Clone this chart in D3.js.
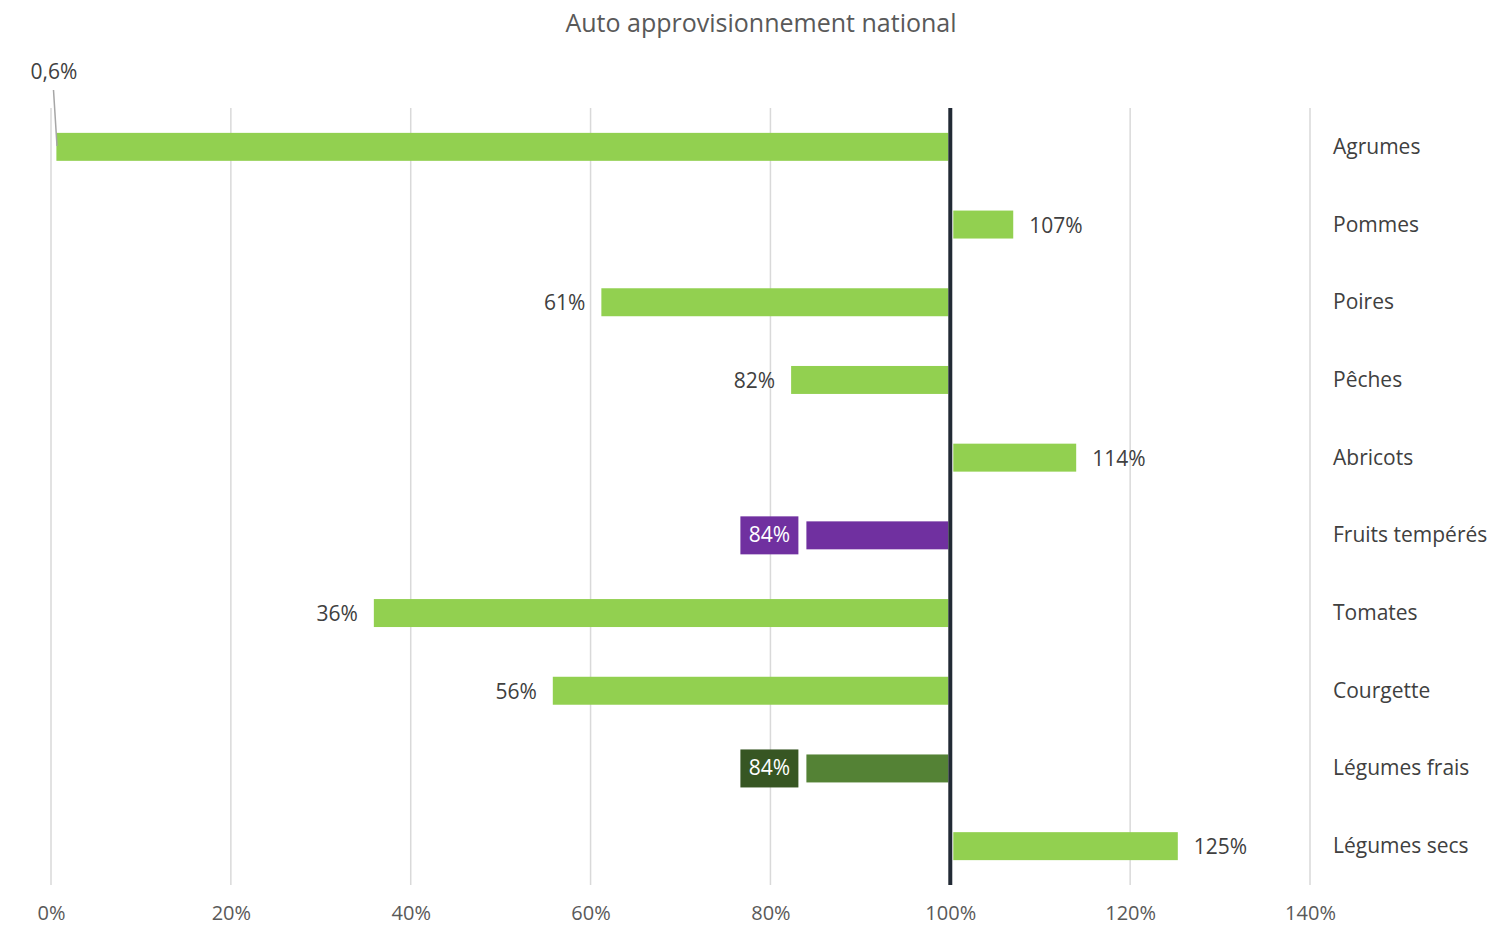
<!DOCTYPE html>
<html><head><meta charset="utf-8">
<script src="https://cdn.jsdelivr.net/npm/d3@7"></script>
<style>
html,body{margin:0;padding:0;background:#fff;}
svg{display:block;font-family:"Open Sans","Noto Sans",sans-serif;}
</style></head>
<body>
<svg id="chart" width="1494" height="927"></svg>
<script>
const categories = ["Agrumes","Pommes","Poires","Pêches","Abricots","Fruits tempérés","Tomates","Courgette","Légumes frais","Légumes secs"];
const values = [0.006,1.07,0.612,0.823,1.14,0.84,0.359,0.558,0.84,1.253];
const valueLabels = ["0,6%","107%","61%","82%","114%","84%","36%","56%","84%","125%"];
const barColors = ["#92D050","#92D050","#92D050","#92D050","#92D050","#7030A0","#92D050","#92D050","#548235","#92D050"];
const labelBoxColors = [null,null,null,null,null,"#7030A0",null,null,"#375623",null];
const xTicks = [0,0.2,0.4,0.6,0.8,1.0,1.2,1.4];
const title = "Auto approvisionnement national";

const svg = d3.select("#chart");
const x = d3.scaleLinear().domain([0,1.4]).range([51,1310]);
const y = d3.scaleBand().domain(categories).range([108,885]).paddingInner(0.64).paddingOuter(0.32);

svg.append("text").attr("x",761).attr("y",32).attr("text-anchor","middle")
  .attr("font-size",25).attr("fill","#595959").text(title);

// gridlines
svg.append("g").selectAll("line").data(xTicks).join("line")
  .attr("x1",d=>x(d)).attr("x2",d=>x(d)).attr("y1",108).attr("y2",885)
  .attr("stroke","#D9D9D9").attr("stroke-width",1.5);

// x axis labels
const xAxis = d3.axisBottom(x).tickValues(xTicks).tickSize(0).tickPadding(0)
  .tickFormat(d=>Math.round(d*100)+"%");
const gx = svg.append("g").attr("transform","translate(0,913)").call(xAxis);
gx.select(".domain").remove();
gx.selectAll("text").attr("font-size",20).attr("fill","#595959")
  .attr("font-family","'Open Sans','Noto Sans',sans-serif").attr("y",0).attr("dy","0.35em");

// bars
const data = categories.map((c,i)=>({c,v:values[i],lab:valueLabels[i],col:barColors[i],box:labelBoxColors[i]}));
svg.append("g").selectAll("rect").data(data).join("rect")
  .attr("x",d=>d.v<1 ? x(d.v) : x(1)+3)
  .attr("width",d=>d.v<1 ? x(1)-2-x(d.v) : x(d.v)-x(1)-3)
  .attr("y",d=>y(d.c)).attr("height",y.bandwidth())
  .attr("fill",d=>d.col);

// 100% line
svg.append("line").attr("x1",x(1)).attr("x2",x(1)).attr("y1",108).attr("y2",885)
  .attr("stroke","#222A35").attr("stroke-width",4);

// category labels
svg.append("g").selectAll("text").data(categories).join("text")
  .attr("x",1333).attr("y",d=>y(d)+y.bandwidth()/2+7)
  .attr("font-size",21).attr("fill","#404040").text(d=>d);

// value labels
const lg = svg.append("g");
data.forEach((d,i)=>{
  const cy = y(d.c)+y.bandwidth()/2;
  if (i===0) {
    lg.append("line").attr("x1",53.5).attr("y1",90).attr("x2",57).attr("y2",146)
      .attr("stroke","#A6A6A6").attr("stroke-width",1.5);
    lg.append("text").attr("x",54).attr("y",79).attr("text-anchor","middle")
      .attr("font-size",21).attr("fill","#404040").text(d.lab);
    return;
  }
  if (d.box) {
    const bx = x(d.v)-8;
    lg.append("rect").attr("x",bx-58).attr("y",cy-19).attr("width",58).attr("height",38).attr("fill",d.box);
    lg.append("text").attr("x",bx-29).attr("y",cy+7).attr("text-anchor","middle")
      .attr("font-size",21).attr("fill","#ffffff").text(d.lab);
  } else if (d.v<1) {
    lg.append("text").attr("x",x(d.v)-16).attr("y",cy+8).attr("text-anchor","end")
      .attr("font-size",21).attr("fill","#404040").text(d.lab);
  } else {
    lg.append("text").attr("x",x(d.v)+16).attr("y",cy+8).attr("text-anchor","start")
      .attr("font-size",21).attr("fill","#404040").text(d.lab);
  }
});
</script>
</body></html>
